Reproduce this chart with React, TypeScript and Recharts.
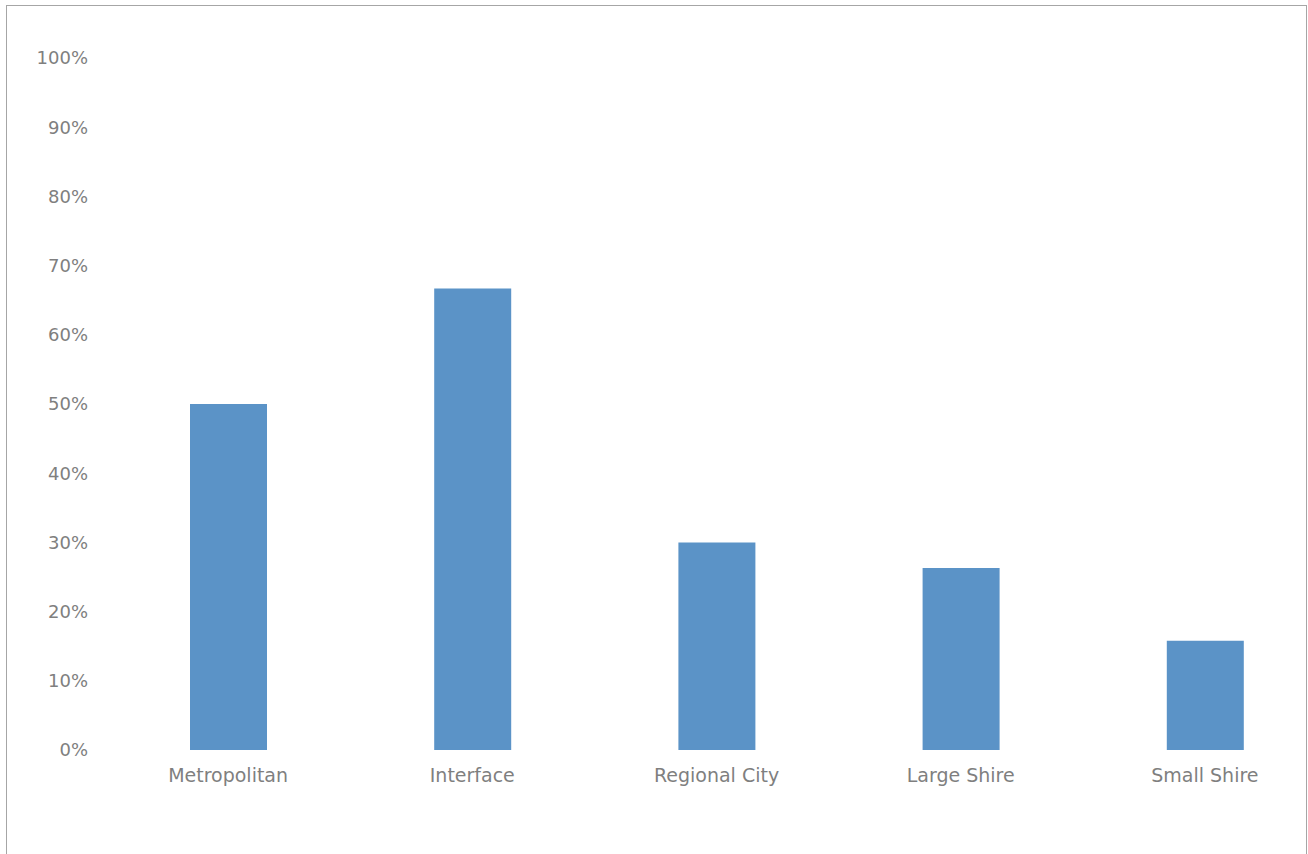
import React from "react";
import { BarChart, Bar, XAxis, YAxis } from "recharts";

const categories = ["Metropolitan", "Interface", "Regional City", "Large Shire", "Small Shire"];
const shares = [50, 66.7, 30, 26.3, 15.8];
const yTicks = [0, 10, 20, 30, 40, 50, 60, 70, 80, 90, 100];

const data = categories.map((name, i) => ({ name, value: shares[i] }));

const font = "'DejaVu Sans', Verdana, sans-serif";
const yTickStyle = { fill: "#7f7f7f", fontSize: 18, fontFamily: font };
const xTickStyle = { fill: "#7f7f7f", fontSize: 19, fontFamily: font };

export default function App() {
  return (
    <div
      style={{
        position: "absolute",
        left: 6,
        top: 5,
        width: 1299,
        height: 870,
        border: "1px solid #a6a6a6",
        overflow: "hidden",
        background: "#fff",
      }}
    >
      <BarChart
        width={1340}
        height={860}
        data={data}
        margin={{ top: 52, right: 20, left: 0, bottom: 56 }}
        barSize={77}
      >
        <XAxis
          dataKey="name"
          axisLine={false}
          tickLine={false}
          tickSize={0}
          tickMargin={19}
          height={60}
          tick={xTickStyle}
          interval={0}
        />
        <YAxis
          domain={[0, 100]}
          ticks={yTicks}
          axisLine={false}
          tickLine={false}
          tickSize={0}
          tickMargin={18}
          width={99}
          tick={yTickStyle}
          tickFormatter={(v) => `${v}%`}
          interval={0}
        />
        <Bar dataKey="value" fill="#5b93c7" isAnimationActive={false} />
      </BarChart>
    </div>
  );
}
